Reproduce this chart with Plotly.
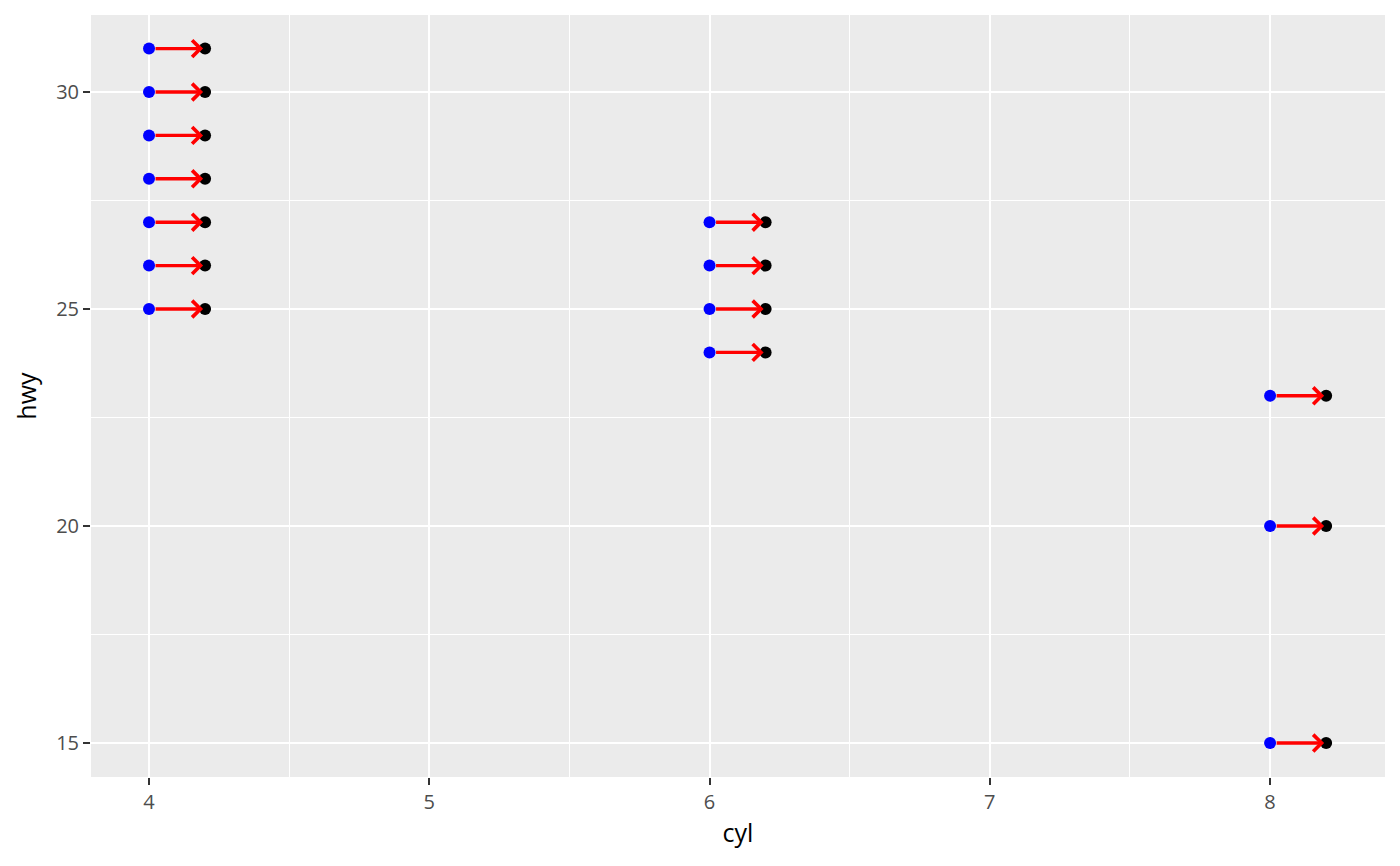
import plotly.graph_objects as go

# data
cyl = [4, 4, 4, 4, 4, 4, 4, 6, 6, 6, 6, 8, 8, 8]
hwy = [25, 26, 27, 28, 29, 30, 31, 24, 25, 26, 27, 15, 20, 23]
shift = 0.2
x_end = [c + shift for c in cyl]

x_ticks = [4, 5, 6, 7, 8]
y_ticks = [15, 20, 25, 30]

fig = go.Figure()

fig.add_trace(go.Scatter(x=cyl, y=hwy, mode="markers",
                         marker=dict(color="blue", size=12), showlegend=False,
                         hoverinfo="skip"))
fig.add_trace(go.Scatter(x=x_end, y=hwy, mode="markers",
                         marker=dict(color="black", size=12), showlegend=False,
                         hoverinfo="skip"))

for x0, x1, y in zip(cyl, x_end, hwy):
    fig.add_annotation(x=x1, y=y, ax=x0, ay=y, xref="x", yref="y",
                       axref="x", ayref="y", text="", showarrow=True,
                       arrowhead=4, arrowsize=0.95, arrowwidth=3.4,
                       arrowcolor="red", standoff=2, startstandoff=5)

axis_common = dict(
    showgrid=True, gridcolor="white", gridwidth=2,
    zeroline=False, showline=False,
    ticks="outside", ticklen=7, tickwidth=2, tickcolor="#333333",
    tickfont=dict(family="Open Sans", size=20, color="#4d4d4d"),
)

title_font = dict(family="Open Sans", size=25, color="black")

fig.update_xaxes(range=[3.793, 8.41], tickvals=x_ticks,
                 ticktext=[str(v) for v in x_ticks],
                 minor=dict(tickvals=[4.5, 5.5, 6.5, 7.5], showgrid=True,
                            gridcolor="white", gridwidth=1),
                 title=dict(text="cyl", font=title_font, standoff=10),
                 **axis_common)
fig.update_yaxes(range=[14.217, 31.774], tickvals=y_ticks,
                 ticktext=[str(v) for v in y_ticks],
                 minor=dict(tickvals=[17.5, 22.5, 27.5], showgrid=True,
                            gridcolor="white", gridwidth=1),
                 title=dict(text="hwy", font=title_font, standoff=12),
                 **axis_common)

fig.update_layout(
    width=1392, height=858,
    margin=dict(l=83, r=15, t=7, b=89),
    plot_bgcolor="#EBEBEB", paper_bgcolor="white",
    showlegend=False,
)

fig.write_html("out.html")
